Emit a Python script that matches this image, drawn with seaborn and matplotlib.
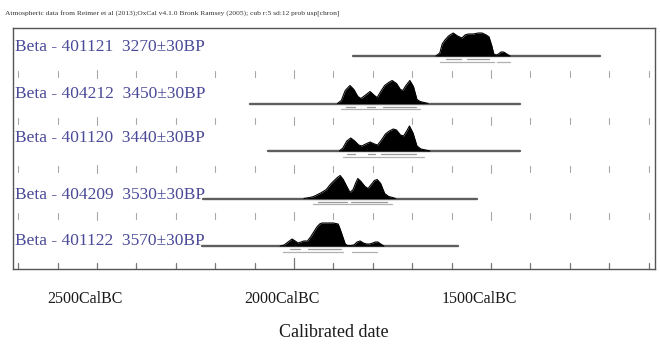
import numpy as np
import pandas as pd
import matplotlib
matplotlib.use("Agg")
import matplotlib.pyplot as plt
import matplotlib.transforms as mtransforms
import seaborn as sns

# ---------------- data (years cal BC, probability heights in relative units) ----------------
labels = ["Beta - 401121  3270\u00b130BP", "Beta - 404212  3450\u00b130BP",
          "Beta - 401120  3440\u00b130BP", "Beta - 404209  3530\u00b130BP",
          "Beta - 401122  3570\u00b130BP"]

bc1 = [1640, 1630, 1624, 1617, 1608, 1596, 1585, 1574, 1566, 1558, 1545, 1532, 1523, 1512, 1505, 1498, 1493,
       1487, 1481, 1475, 1468, 1460, 1452]
h1 = [0, 3, 12, 16, 20, 23, 20, 18, 21, 22, 22, 23, 23, 21, 19, 10, 2, 1, 2, 4, 4, 2, 0]

bc2 = [1890, 1880, 1870, 1858, 1848, 1838, 1830, 1820, 1807, 1796, 1789, 1780, 1770, 1760, 1751, 1740, 1730,
       1724, 1716, 1706, 1697, 1688, 1680, 1670, 1660]
h2 = [0, 3, 13, 18, 14, 7, 5, 8, 12, 8, 6, 12, 18, 21, 23, 20, 14, 13, 18, 23, 17, 4, 2, 1, 0]

bc3 = [1885, 1876, 1866, 1856, 1846, 1836, 1828, 1818, 1807, 1796, 1788, 1778, 1768, 1758, 1748, 1740, 1730,
       1722, 1714, 1707, 1698, 1688, 1678, 1666, 1655]
h3 = [0, 3, 10, 13, 10, 6, 5, 7, 9, 7, 6, 11, 17, 20, 22, 21, 16, 15, 20, 25, 18, 5, 2, 1, 0]

bc4 = [1975, 1960, 1950, 1940, 1930, 1918, 1908, 1898, 1890, 1883, 1875, 1866, 1858, 1850, 1843, 1838, 1830,
       1820, 1812, 1804, 1796, 1789, 1780, 1770, 1760, 1750, 1742]
h4 = [0, 1, 2, 4, 6, 9, 14, 18, 21, 23, 19, 12, 6, 9, 16, 20, 17, 12, 10, 14, 18, 19, 15, 5, 2, 1, 0]

bc5 = [2035, 2025, 2015, 2005, 1997, 1990, 1982, 1975, 1966, 1958, 1950, 1942, 1935, 1929, 1915, 1900, 1888,
       1883, 1876, 1870, 1864, 1856, 1848, 1840, 1832, 1824, 1816, 1808, 1800, 1794, 1787, 1780, 1772]
h5 = [0, 1, 4, 7, 5, 3, 4, 5, 5, 9, 14, 19, 22, 23, 23, 23, 22, 17, 9, 2, 0.5, 0.5, 1, 4, 5, 3, 2, 2, 3, 4, 4,
      2, 0]

# extent of each sample's baseline (cal BC)
line_start = [1850, 2112, 2066, 2231, 2234]
line_end = [1223, 1426, 1426, 1536, 1584]

# highest-probability ranges (cal BC)
ranges68 = [[(1615, 1575), (1560, 1505)], [(1868, 1845), (1815, 1795), (1775, 1690)],
            [(1866, 1845), (1812, 1795), (1778, 1690)], [(1940, 1866), (1855, 1765)],
            [(2010, 1985), (1965, 1880)]]
ranges95 = [[(1630, 1493), (1485, 1452)], [(1880, 1680)], [(1876, 1670)], [(1952, 1751)],
            [(2028, 1876), (1853, 1789)]]

tick_years = list(range(2700, 1000, -100))
label_years = [2500, 2000, 1500]
tick_labels = ["2500CalBC", "2000CalBC", "1500CalBC"]
title = "Atmospheric data from Reimer et al (2013);OxCal v4.1.0 Bronk Ramsey (2005); cub r:5 sd:12 prob usp[chron]"
xlabel = "Calibrated date"

# ---------------- plotting ----------------
sns.set_theme(style="white")
plt.rcParams["font.family"] = ["Liberation Serif", "DejaVu Serif"]

fig = plt.figure(figsize=(6.6, 3.47), dpi=100)
ax = fig.add_axes([13 / 660, 1 - 269 / 347, 642 / 660, 241 / 347])

PX = 1 / 47.5          # data units per pixel vertically
HSCALE = PX            # heights given in pixel-like units

dists = [(bc1, h1), (bc2, h2), (bc3, h3), (bc4, h4), (bc5, h5)]
frames = []
for k, (bc, h) in enumerate(dists):
    frames.append(pd.DataFrame({"year": [-b for b in bc], "h": h, "row": k}))
df = pd.concat(frames, ignore_index=True)

for k in range(5):
    # baseline
    sns.lineplot(x=[-line_start[k], -line_end[k]], y=[k, k], ax=ax, color="#5e5e5e", lw=1.7,
                 estimator=None, sort=False)
    sub = df[df.row == k]
    ax.fill_between(sub.year, k, k - sub.h * HSCALE, color="black", lw=0, zorder=3)
    sns.lineplot(x=sub.year, y=k - sub.h * HSCALE, ax=ax, color="black", lw=0.8, estimator=None,
                 sort=False, zorder=3)
    # ranges
    for a, b in ranges68[k]:
        ax.plot([-a, -b], [k + 3 * PX, k + 3 * PX], color="#9a9a9a", lw=0.9, zorder=2)
    for a, b in ranges95[k]:
        ax.plot([-a, -b], [k + 5.5 * PX, k + 5.5 * PX], color="#b0b0b0", lw=0.9, zorder=2)

label_offsets = [-5, -6, -9, 0, -1]
blend = mtransforms.blended_transform_factory(ax.transAxes, ax.transData)
for k, lab in enumerate(labels):
    ax.text(2 / 642, k + label_offsets[k] * PX, lab, transform=blend,
            color="#4a4a98", fontsize=12.5, va="baseline", ha="left")

# tick rows between samples
for k in range(4):
    yc = k + 17.5 * PX
    for t in tick_years:
        L = 3.0 if t not in label_years else 4.0
        ax.plot([-t, -t], [yc - L * PX, yc + L * PX], color="#a8a8a8", lw=0.8)
# bottom ticks
ybot = 4 + 23 * PX
for t in tick_years:
    L = 11 if t == 2000 else 6
    ax.plot([-t, -t], [ybot, ybot - L * PX], color="#777777", lw=0.9)

ax.set_xlim(-2713, -1084)
ax.set_ylim(ybot, -28 * PX)
ax.set_yticks([])
ax.set_xticks([-y for y in label_years])
ax.set_xticklabels(tick_labels, fontsize=11.5)
ax.tick_params(axis="x", length=0, pad=16, colors="#1a1a1a")
off = mtransforms.ScaledTranslation(-12 / 100, 0, fig.dpi_scale_trans)
for lbl in ax.get_xticklabels():
    lbl.set_transform(lbl.get_transform() + off)
ax.set_xlabel(xlabel, fontsize=13, labelpad=12, color="#1a1a1a")
ax.set_ylabel("")
for s in ax.spines.values():
    s.set_color("#555555")
    s.set_linewidth(1.0)

fig.text(5 / 660, 1 - 14 / 347, title, fontsize=5.4, color="#333333", va="center", ha="left")

fig.savefig("out.png", dpi=100)
